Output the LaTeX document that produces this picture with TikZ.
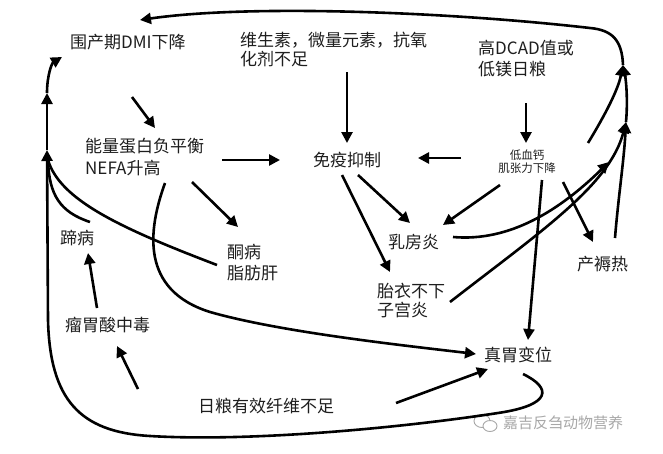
\documentclass[tikz,border=0pt]{standalone}
\usepackage{fontspec}
\setmainfont{Noto Sans CJK SC}
\usetikzlibrary{arrows.meta}
\definecolor{txtc}{HTML}{1E1E1E}
\definecolor{wmc}{HTML}{A8A8A8}
\begin{document}
\begin{tikzpicture}[x=1pt,y=-1pt,
  lbl/.style={inner sep=0pt, anchor=west, text=txtc, align=left, font=\fontsize{17}{21}\selectfont},
  arr/.style={-{Triangle[length=11pt,width=11pt]}, line width=2.6pt, black},
  ln/.style={line width=2.6pt, black}]
\fill[white] (0,0) rectangle (663,453);
\useasboundingbox (0,0) rectangle (663,453);

% nodes
\node[lbl] (dmi) at (70,42) {围产期DMI下降};
\node[lbl, font=\fontsize{17}{19}\selectfont] (vit) at (240,49) {维生素，微量元素，抗氧\\化剂不足};
\node[lbl] (dcad) at (478,58.5) {高DCAD值或\\低镁日粮};
\node[lbl, font=\fontsize{17}{22}\selectfont] (nefa) at (85,157) {能量蛋白负平衡\\NEFA升高};
\node[lbl] (imm) at (313,160) {免疫抑制};
\node[inner sep=0pt, align=center, text=txtc, font=\fontsize{11.5}{13}\selectfont] (hypo) at (527,161.5) {低血钙\\肌张力下降};
\node[lbl] (mast) at (388,242) {乳房炎};
\node[lbl] (fever) at (577,264) {产褥热};
\node[lbl] (keto) at (227,262.5) {酮病\\脂肪肝};
\node[lbl] (hoof) at (60,238) {蹄病};
\node[lbl, font=\fontsize{17}{19.5}\selectfont] (ret) at (377,300.5) {胎衣不下\\子宫炎};
\node[lbl] (acid) at (65,325) {瘤胃酸中毒};
\node[lbl] (fiber) at (198,406) {日粮有效纤维不足};
\node[lbl] (lda) at (484,355) {真胃变位};

% watermark
\draw[wmc, line width=0.9pt] (482,421) ellipse [x radius=8pt, y radius=6.5pt];
\draw[wmc, line width=0.9pt, fill=white] (490,426) ellipse [x radius=7pt, y radius=5.5pt];
\node[inner sep=0pt, anchor=west, text=wmc, font=\fontsize{15}{17}\selectfont] (wm) at (503,423) {嘉吉反刍动物营养};

% bus coordinates
\coordinate (lb1) at (47,150);
\coordinate (lbA) at (48,160);
\coordinate (lb2) at (47,93);
\coordinate (rb1) at (609,162);
\coordinate (rb2) at (626,122);
\coordinate (rb3) at (623,65);

% straight arrows
\draw[arr] ([shift={(62,55)}]dmi.west) -- ([shift={(70,-29)}]nefa.west);
\draw[arr] ([shift={(107,23)}]vit.west) -- ([shift={(34,-17)}]imm.west);
\draw[arr] ([shift={(137,3)}]nefa.west) -- ([shift={(-33,0)}]imm.west);
\draw[arr] ([shift={(-66,-3.5)}]hypo.center) -- ([shift={(105,-2)}]imm.west);
\draw[arr] ([shift={(48,44.5)}]dcad.west) -- ([shift={(-1,-18.5)}]hypo.center);
\draw[arr] ([shift={(45,15)}]imm.west) -- ([shift={(22,-19)}]mast.west);
\draw[arr] ([shift={(29,15)}]imm.west) -- ([shift={(13,-28.5)}]ret.west);
\draw[arr] ([shift={(-27,23.5)}]hypo.center) -- ([shift={(55,-17)}]mast.west);
\draw[arr] ([shift={(15,18.5)}]hypo.center) -- ([shift={(44,-15)}]lda.west);
\draw[arr] ([shift={(36,20.5)}]hypo.center) -- ([shift={(16,-22)}]fever.west);
\draw[arr] ([shift={(107,25)}]nefa.west) -- ([shift={(11,-35.5)}]keto.west);
\draw[arr] ([shift={(198,-3)}]fiber.west) -- ([shift={(4,14)}]lda.west);
\draw[arr] ([shift={(-60,-17)}]fiber.west) -- ([shift={(52,21)}]acid.west);
\draw[arr] ([shift={(32,-17)}]acid.west) -- ([shift={(28,15)}]hoof.west);

% NEFA -> LDA sweeping curve
\draw[arr] ([shift={(80,26)}]nefa.west) .. controls (148,230) and (140,290) .. (210,312)
  .. controls (280,332) and (400,345) .. ([shift={(-8,-1)}]lda.west);

% left bus
\draw[ln] ([shift={(30,-16)}]hoof.west) .. controls (60,212) and (49,195) .. (lbA);
\draw[ln] ([shift={(-10,2.5)}]keto.west) .. controls (120,228) and (60,200) .. (lbA);
\draw[arr] ([shift={(39,19)}]lda.west) .. controls (552,388) and (552,405) .. (498,413)
  .. controls (400,428) and (250,442) .. (150,436)
  .. controls (80,432) and (50,400) .. (48,320) -- (lb1);
\draw[arr] (lb1) -- (lb2);
\draw[arr] (lb2) .. controls (47,75) and (52,63) .. ([shift={(-8,15)}]dmi.west);

% right bus
\draw[arr] ([shift={(65,-5)}]mast.west) .. controls (510,242) and (560,210) .. (rb1);
\draw[arr] ([shift={(73,1.5)}]ret.west) .. controls (540,232) and (610,185) .. (rb2);
\draw[arr] ([shift={(38,-26)}]fever.west) .. controls (618,200) and (624,160) .. (rb2);
\draw[arr] (rb2) .. controls (628,100) and (626,80) .. (rb3);
\draw[arr] ([shift={(61,-18.5)}]hypo.center) .. controls (605,115) and (618,90) .. (rb3);
\draw[arr] (rb3) .. controls (622,40) and (612,30) .. (590,28)
  .. controls (450,12) and (250,4) .. ([shift={(70,-22)}]dmi.west);
\end{tikzpicture}
\end{document}
